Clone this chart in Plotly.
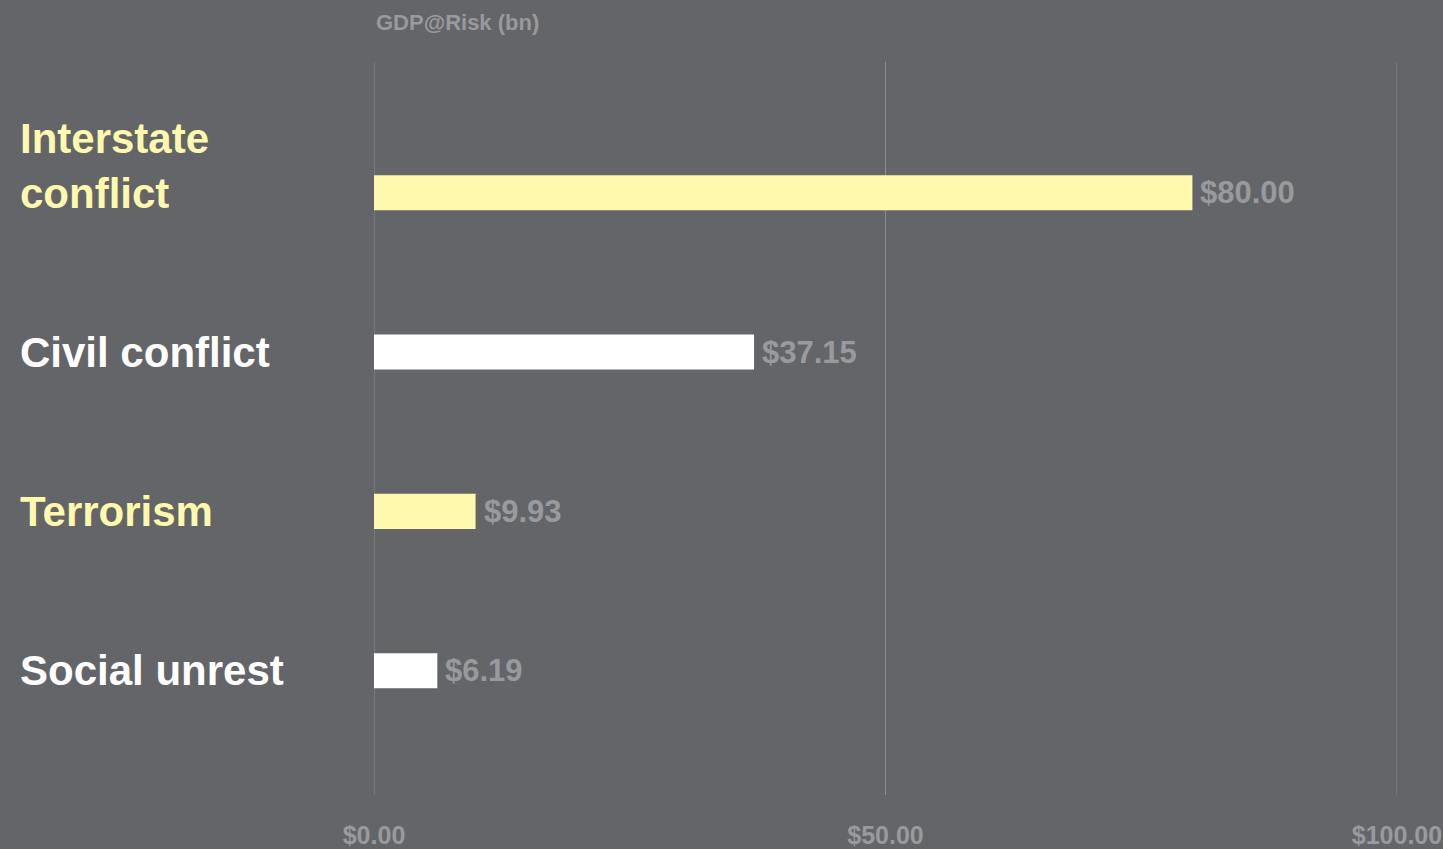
import plotly.graph_objects as go

categories = ["Interstate<br>conflict", "Civil conflict", "Terrorism", "Social unrest"]
values = [80.00, 37.15, 9.93, 6.19]
value_labels = ["$80.00", "$37.15", "$9.93", "$6.19"]
colors = ["#FFF9AE", "#FFFFFF", "#FFF9AE", "#FFFFFF"]
tick_vals = [0, 50, 100]
tick_text = ["$0.00", "$50.00", "$100.00"]

BG = "#646569"
GREY = "#999A9D"
GRID = "#8C8D90"
FONT = "Liberation Sans, Arial, sans-serif"

W, H = 1443, 849
ML, MR, MT, MB = 374, 46, 62, 54
plot_w = W - ML - MR

fig = go.Figure()
fig.add_trace(go.Bar(
    y=list(range(len(categories))),
    x=values,
    orientation="h",
    width=0.22,
    marker=dict(color=colors, line=dict(width=0)),
    hoverinfo="skip",
))

# gridlines at tick positions
for tv in tick_vals:
    fig.add_shape(type="line", xref="x", yref="paper", x0=tv, x1=tv, y0=0, y1=1,
                  line=dict(color=GRID, width=1), layer="below")

# value labels
for i, (v, lab) in enumerate(zip(values, value_labels)):
    fig.add_annotation(
        x=v, xref="x", xanchor="left", xshift=6,
        y=i, yref="y", yanchor="middle",
        text=lab, showarrow=False,
        font=dict(family=FONT, size=31, color=GREY, weight="bold"),
    )

# category labels
for i, (cat, col) in enumerate(zip(categories, colors)):
    n_lines = cat.count("<br>") + 1
    fig.add_annotation(
        x=(18 - ML) / plot_w, xref="paper", xanchor="left",
        y=i, yref="y", yanchor="middle", yshift=(n_lines - 1) * 26.5,
        text=cat, showarrow=False, align="left",
        font=dict(family=FONT, size=42, color=col, weight="bold"),
    )

fig.add_annotation(
    x=0, xref="paper", xanchor="left",
    y=1, yref="paper", yanchor="bottom", yshift=25,
    text="GDP@Risk (bn)", showarrow=False,
    font=dict(family=FONT, size=22, color=GREY, weight="bold"),
)

fig.update_layout(
    width=W, height=H,
    paper_bgcolor=BG, plot_bgcolor=BG,
    margin=dict(l=ML, r=MR, t=MT, b=MB, autoexpand=False),
    showlegend=False,
    xaxis=dict(
        range=[0, 100], tickvals=tick_vals, ticktext=tick_text,
        showgrid=False, automargin=False,
        zeroline=False, showline=False, ticks="",
        ticklabelstandoff=23,
        tickfont=dict(family=FONT, size=25, color=GREY, weight="bold"),
        fixedrange=True,
    ),
    yaxis=dict(
        range=[3.78, -0.82], showticklabels=False, showgrid=False,
        automargin=False,
        zeroline=False, showline=False, fixedrange=True,
    ),
)

fig.write_html(
    "out.html",
    config={"displayModeBar": False},
    post_script="document.body.style.margin='0';document.body.style.overflow='hidden';",
)
